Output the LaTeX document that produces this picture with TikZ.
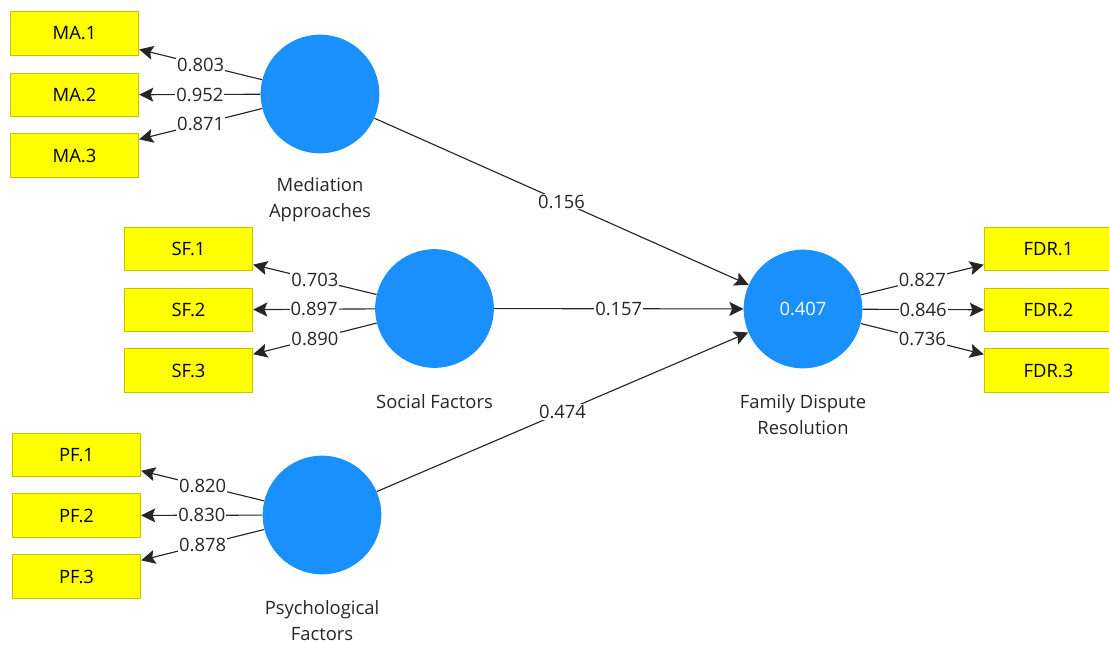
\documentclass[tikz,border=0pt]{standalone}
\definecolor{lvblue}{HTML}{1A90FF}
\definecolor{indyel}{HTML}{FFFF00}
\definecolor{indbord}{HTML}{C4C400}
\usepackage{fontspec}
\setmainfont{Open Sans}
\usepackage{tikz}
\usetikzlibrary{arrows.meta}
\usetikzlibrary{calc}

\tikzset{
	latent/.style={circle, fill=lvblue, minimum size=89pt, inner sep=0pt},
	indic/.style={rectangle, fill=indyel, draw=indbord, line width=0.6pt, minimum width=96.5pt, minimum height=32.5pt, inner sep=0pt},
	lnk/.style={draw=black!85, line width=0.85pt, -{Stealth[length=10.5pt,width=10.5pt,inset=2pt]}},
	val/.style={fill=white, inner sep=0.8pt, text=black!85},
	lvcap/.style={align=center, text=black!85}
}

\begin{document}
\begin{tikzpicture}[x=0.75pt, y=-0.75pt, font=\fontsize{13.8}{19.5}\selectfont]
	\useasboundingbox (0,0) rectangle (1109,644);
	%latent variables
	\node[latent] (MA) at (320,94) {};
	\node[latent] (SF) at (434.5,308.5) {};
	\node[latent] (PF) at (322,515) {};
	\node[latent, text=white] (FDR) at (803,309) {0.407};
	\node[lvcap] (MAcap) at (320,200) {Mediation\\Approaches};
	\node[lvcap] (SFcap) at (434.5,402) {Social Factors};
	\node[lvcap] (PFcap) at (322,620.5) {Psychological\\Factors};
	\node[lvcap] (FDRcap) at (803,415) {Family Dispute\\Resolution};
	%indicators
	\foreach \n/\y in {1/33.5, 2/95, 3/155.5}
	\node[indic] (MA\n) at (74.5,\y) {MA.\n};
	\foreach \n/\y in {1/249, 2/310, 3/370.5}
	\node[indic] (SF\n) at (188.5,\y) {SF.\n};
	\foreach \n/\y in {1/455, 2/515.5, 3/576.5}
	\node[indic] (PF\n) at (76.5,\y) {PF.\n};
	\foreach \n/\y in {1/249, 2/310, 3/370.5}
	\node[indic] (FDR\n) at (1048.5,\y) {FDR.\n};
	%outer loadings
	\foreach \n/\v in {1/0.803, 2/0.952, 3/0.871}
	\draw[lnk] (MA) -- node[val] {\v} (MA\n);
	\foreach \n/\v in {1/0.703, 2/0.897, 3/0.890}
	\draw[lnk] (SF) -- node[val] {\v} (SF\n);
	\foreach \n/\v in {1/0.820, 2/0.830, 3/0.878}
	\draw[lnk] (PF) -- node[val] {\v} (PF\n);
	\foreach \n/\v in {1/0.827, 2/0.846, 3/0.736}
	\draw[lnk] (FDR) -- node[val] {\v} (FDR\n);
	%path coefficients
	\foreach \s/\v in {MA/0.156, SF/0.157, PF/0.474}
	\draw[lnk] (\s) -- node[val] {\v} (FDR);
\end{tikzpicture}
\end{document}
